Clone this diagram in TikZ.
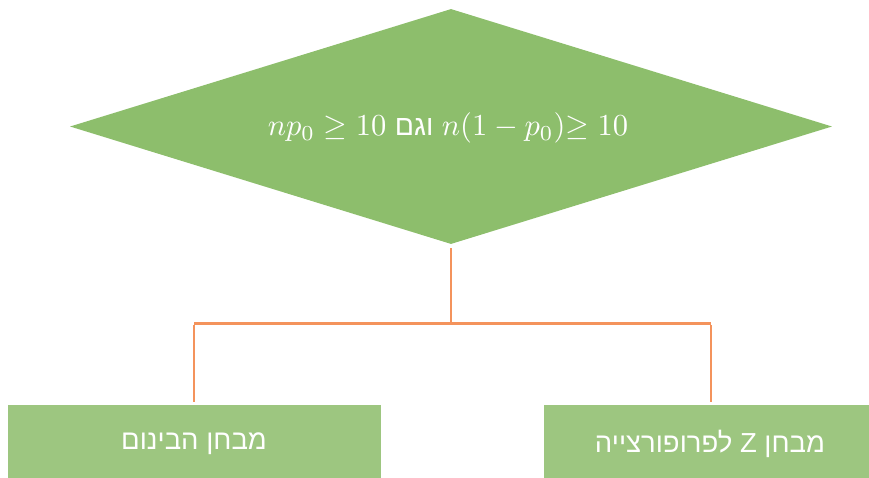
\documentclass[tikz,border=0pt]{standalone}
\usepackage{fontspec}
\setmainfont{Liberation Sans}
\newfontfamily\hebfont[Script=Hebrew]{Liberation Sans}
\TeXXeTstate=1
\usetikzlibrary{shapes.geometric}
\definecolor{diagreen}{HTML}{8DBE6C}
\definecolor{boxgreen}{HTML}{9DC680}
\definecolor{linkorange}{HTML}{F4935C}
\tikzset{
  decision/.style={diamond, fill=diagreen, draw=none, inner sep=0pt, minimum width=762pt, minimum height=235pt, aspect=3.24},
  resultbox/.style={rectangle, fill=boxgreen, draw=none, inner sep=0pt, minimum height=80pt},
  boxtext/.style={text=white, font=\hebfont\fontsize{27.5}{32}\selectfont},
  condtext/.style={text=white, font=\normalsize, scale=3.05},
  link/.style={draw=linkorange, line width=2.6pt}
}
\begin{document}
\begin{tikzpicture}[x=1pt,y=-1pt]
\useasboundingbox (0,0) rectangle (869,477);
\begin{scope}
\clip (0,0) rectangle (869,477);
\node[decision] (dec) at (451,126.5) {};
\node[condtext] (cond) at (448,128) {$np_0 \geq 10$\ {\hebfont\fontsize{9.3}{11}\selectfont\beginR וגם\endR}\ $n(1-p_0){\geq}\ 10$};
\node[resultbox, minimum width=373pt, anchor=north west] (binom) at (8,405) {};
\node[resultbox, minimum width=334pt, anchor=north west] (ztest) at (544,405) {};
\node[boxtext] (binomtxt) at (194,444) {\beginR מבחן הבינום\endR};
\node[boxtext] (ztxt) at (710,444) {\beginR מבחן Z לפרופורצייה\endR};
\coordinate (junc) at (451,323.5);
\coordinate (lcorner) at (194,323.5);
\coordinate (rcorner) at (711,323.5);
\draw[link] ([yshift=-4pt]dec.south) -- (junc);
\draw[link] (lcorner) -- (rcorner);
\draw[link] ([yshift=-1.3pt]lcorner) -- ([yshift=3pt]lcorner |- binom.north);
\draw[link] ([yshift=-1.3pt]rcorner) -- ([yshift=3pt]rcorner |- ztest.north);
\end{scope}
\end{tikzpicture}
\end{document}
